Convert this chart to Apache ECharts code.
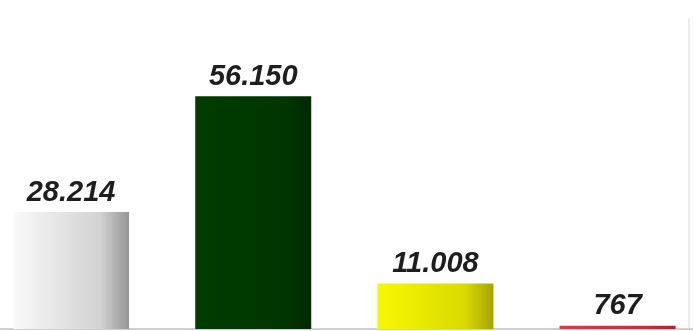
<!DOCTYPE html>
<html><head><meta charset="utf-8">
<script src="https://cdn.jsdelivr.net/npm/echarts@6/dist/echarts.min.js"></script>
<style>html,body{margin:0;padding:0;background:#fff}#c{width:693px;height:331px}</style>
</head><body><div id="c"></div>
<script>
const categories = ['A', 'B', 'C', 'D'];
const values = [28214, 56150, 11008, 767];
const labels = ['28.214', '56.150', '11.008', '767'];
const colorStops = [
  ['#fafafa', '#d2d2d2', '#969696'],
  ['#003d00', '#003500', '#002a00'],
  ['#f8f800', '#dada00', '#a4a400'],
  ['#d0404a', '#c23038', '#a82830']
];
function grad(c){
  return new echarts.graphic.LinearGradient(0,0,1,0,[
    {offset:0,color:c[0]},{offset:0.75,color:c[1]},{offset:1,color:c[2]}]);
}
const chart = echarts.init(document.getElementById('c'));
chart.setOption({
  animation:false,
  backgroundColor:'#fff',
  grid:{left:0,right:0,top:0,bottom:2,containLabel:false},
  xAxis:{type:'value',min:-0.39,max:3.414,
    axisLine:{show:true,onZero:false,lineStyle:{color:'#d0d0d0',width:2}},
    splitLine:{show:false},axisTick:{show:false},axisLabel:{show:false}},
  yAxis:{type:'value',min:0,max:79400,show:false,splitLine:{show:false}},
  graphic:[{type:'line',shape:{x1:689,y1:18,x2:689,y2:331},style:{stroke:'#ececec',lineWidth:2}}],
  series:[{
    type:'bar',barWidth:116,
    data:values.map((v,i)=>({value:[i,v],name:categories[i],itemStyle:{color:grad(colorStops[i])},
      label:{formatter:labels[i]}})),
    label:{show:true,position:'top',distance:5,
      fontFamily:'Liberation Sans, Arial, sans-serif',fontSize:29,
      fontWeight:'bold',fontStyle:'italic',color:'#1e1e1e'}
  }]
});
</script></body></html>
